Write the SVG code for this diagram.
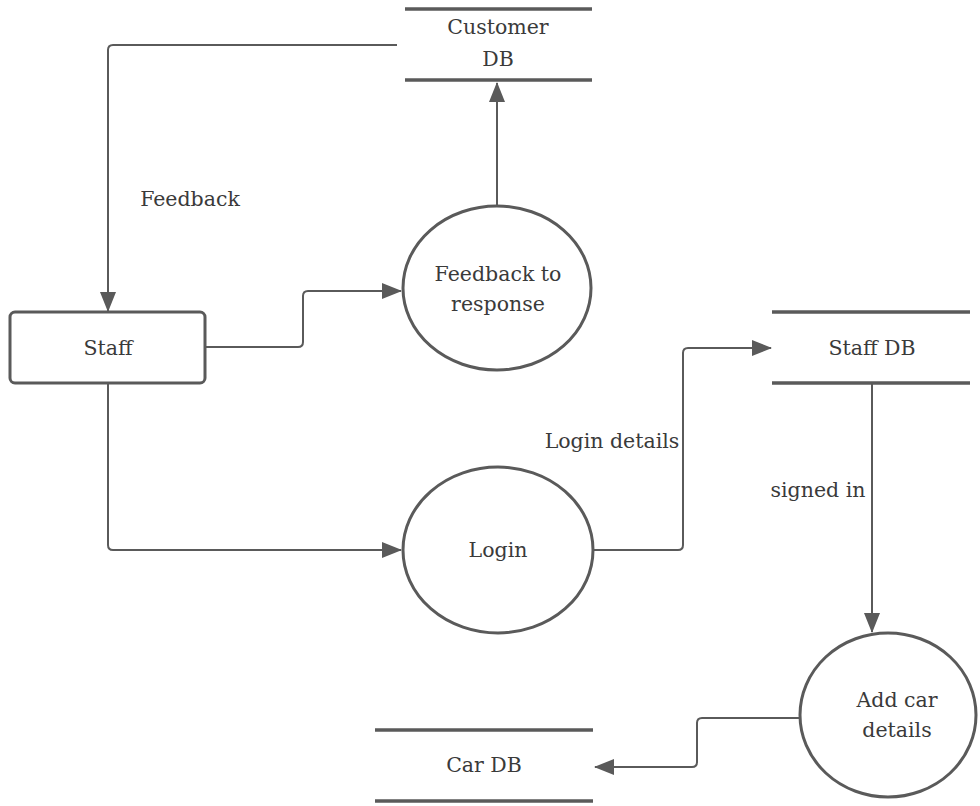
<svg xmlns="http://www.w3.org/2000/svg" width="980" height="806" viewBox="0 0 980 806">
<style>
text{font-family:'DejaVu Serif',serif;font-size:20.5px;fill:#3a3a3a;text-anchor:middle}
.shape{fill:#fff;stroke:#5a5a5a;stroke-width:3}
.store{stroke:#5a5a5a;stroke-width:3.5;fill:none}
.conn{fill:none;stroke:#5a5a5a;stroke-width:2;stroke-linejoin:round}
</style>
<defs>
<marker id="arr" viewBox="0 0 20 16" refX="19" refY="8" markerWidth="20" markerHeight="16" markerUnits="userSpaceOnUse" orient="auto">
<path d="M0,0 L20,8 L0,16 Z" fill="#5a5a5a"/>
</marker>
</defs>
<rect width="980" height="806" fill="#fff"/>
<g id="connectors">
<path class="conn" d="M397,45 H113 Q108,45 108,50 V311" marker-end="url(#arr)"/>
<path class="conn" d="M205,347 H298 Q303,347 303,342 V296 Q303,291 308,291 H401" marker-end="url(#arr)"/>
<path class="conn" d="M497,206 V83" marker-end="url(#arr)"/>
<path class="conn" d="M108,383 V545 Q108,550 113,550 H401" marker-end="url(#arr)"/>
<path class="conn" d="M593,550 H678 Q683,550 683,545 V353 Q683,348 688,348 H771" marker-end="url(#arr)"/>
<path class="conn" d="M872,384 V632" marker-end="url(#arr)"/>
<path class="conn" d="M800,718 H702 Q697,718 697,723 V762 Q697,767 692,767 H595" marker-end="url(#arr)"/>
</g>
<g id="staff">
<rect class="shape" x="10" y="312" width="195" height="71" rx="5"/>
<text x="108" y="355">Staff</text>
</g>
<g id="customer-db">
<line class="store" x1="405" y1="9" x2="592" y2="9"/>
<line class="store" x1="405" y1="80" x2="592" y2="80"/>
<text x="498" y="34">Customer</text>
<text x="498" y="66">DB</text>
</g>
<g id="feedback-to-response">
<ellipse class="shape" cx="497" cy="288" rx="94" ry="82"/>
<text x="498" y="281">Feedback to</text>
<text x="498" y="311">response</text>
</g>
<g id="login">
<ellipse class="shape" cx="498" cy="550" rx="95" ry="83"/>
<text x="498" y="557">Login</text>
</g>
<g id="staff-db">
<line class="store" x1="772" y1="312" x2="970" y2="312"/>
<line class="store" x1="772" y1="383" x2="970" y2="383"/>
<text x="872" y="355">Staff DB</text>
</g>
<g id="add-car-details">
<ellipse class="shape" cx="888" cy="715" rx="88" ry="82"/>
<text x="897" y="707">Add car</text>
<text x="897" y="737">details</text>
</g>
<g id="car-db">
<line class="store" x1="375" y1="730" x2="593" y2="730"/>
<line class="store" x1="375" y1="801" x2="593" y2="801"/>
<text x="484" y="772">Car DB</text>
</g>
<g id="labels">
<text x="190" y="206">Feedback</text>
<text x="612" y="448">Login details</text>
<text x="818" y="497">signed in</text>
</g>
</svg>
